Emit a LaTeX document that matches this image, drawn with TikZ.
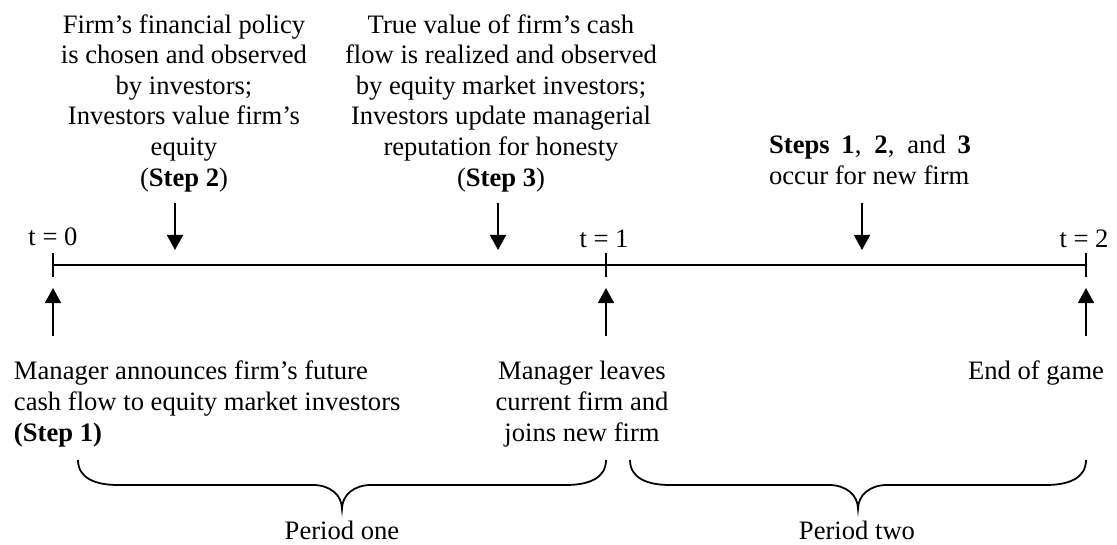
\documentclass[tikz,border=0pt]{standalone}
\usepackage{fontspec}
\setmainfont{Liberation Serif}
\usetikzlibrary{arrows.meta,positioning}

\begin{document}
\begin{tikzpicture}[x=0.451pt, y=-0.451pt, line width=0.9pt,
  event/.style = {align=center, inner sep=0pt, font=\fontsize{12}{13.8}\selectfont},
  pointer/.style = {-{Triangle[width=7.2pt, length=6.8pt]}}]
\useasboundingbox (0,0) rectangle (1117,544);

% Timeline
\coordinate (t0) at (53,265);
\coordinate (t1) at (606,265);
\coordinate (t2) at (1086,265);
\draw (t0) -- (t2);
\foreach \t in {t0,t1,t2}
  \draw ([yshift=5.4pt]\t) -- ([yshift=-5.4pt]\t);

\node[event] (time0) at (53,237) {t = 0};
\node[event] (time1) at (604,239) {t = 1};
\node[event] (time2) at (1084,239) {t = 2};

% Events above the line
\node[event] (policy) at (184,103) {Firm's financial policy\\is chosen and observed\\by investors;\\Investors value firm's\\equity\\(\textbf{Step 2})};
\node[event] (reveal) at (501,103) {True value of firm's cash\\flow is realized and observed\\by equity market investors;\\Investors update managerial\\reputation for honesty\\(\textbf{Step 3})};
\node[event, align=justify, text width=91pt] (repeat) at (870,160) {\textbf{Steps} \textbf{1}, \textbf{2}, and \textbf{3}\linebreak occur for new firm};

% Events below the line
\node[event, align=left, anchor=west] (announce) at (13,404) {Manager announces firm's future\\cash flow to equity market investors\\\textbf{(Step 1)}};
\node[event] (leave) at (582,404) {Manager leaves\\current firm and\\joins new firm};
\node[event, anchor=east] (endgame) at (1105,373) {End of game};

% Arrows
\foreach \x/\n in {175/policy, 498/reveal, 862/repeat} {
  \coordinate (\n from) at (\x,203);
  \coordinate (\n to) at (\x,250);
  \draw[pointer] (\n from) -- (\n to);
}
\foreach \x/\n in {53/announce, 606/leave, 1086/endgame} {
  \coordinate (\n from) at (\x,336);
  \coordinate (\n to) at (\x,288);
  \draw[pointer] (\n from) -- (\n to);
}

% Braces
\foreach \a/\b in {78/606, 630/1086} {
  \pgfmathsetmacro\m{(\a+\b)/2}
  \draw[line width=0.8pt] (\a,460) .. controls (\a,478) and (\a+17,485) .. (\a+40,485) -- (\m-29,485)
    .. controls (\m-12,485) and (\m,495) .. (\m,509)
    .. controls (\m,495) and (\m+12,485) .. (\m+29,485) -- (\b-40,485)
    .. controls (\b-17,485) and (\b,478) .. (\b,460);
}
\node[event] (period1) at (342,530) {Period one};
\node[event] (period2) at (857,530) {Period two};
\end{tikzpicture}
\end{document}
